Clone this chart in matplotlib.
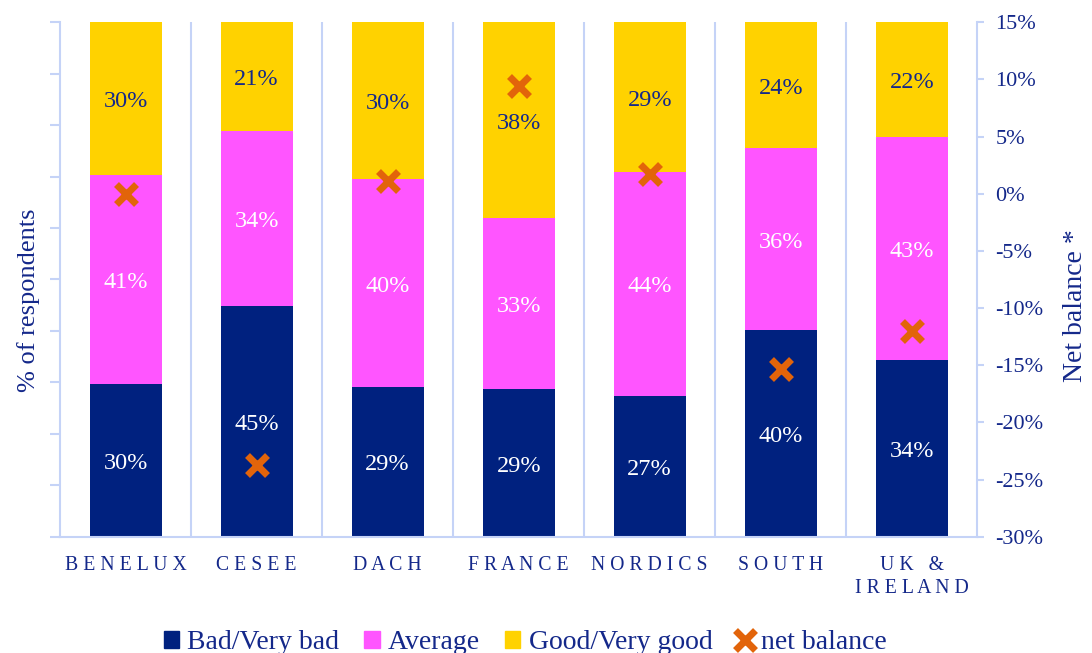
#!/usr/bin/env python

"""
stacked bar of survey answers by region, net balance on a second axis
"""

import numpy as np
import matplotlib
matplotlib.use("Agg")
import matplotlib.pyplot as plt
from matplotlib.patches import Patch
from matplotlib.lines import Line2D

regions = ["BENELUX", "CESEE", "DACH", "FRANCE", "NORDICS", "SOUTH", "UK &\nIRELAND"]
bad = [29.6, 44.9, 29.1, 28.7, 27.4, 40.1, 34.4]
average = [40.8, 33.9, 40.4, 33.2, 43.5, 35.5, 43.3]
good = [29.6, 21.2, 30.5, 38.1, 29.1, 24.4, 22.3]
net_balance = [0.0, -23.7, 1.1, 9.4, 1.7, -15.3, -12.0]

C_BAD = "#00217f"
C_AVG = "#ff55ff"
C_GOOD = "#ffd200"
C_NET = "#e2640a"
C_TXT = "#14288a"
C_AX = "#c5d3f7"

plt.rcParams["font.family"] = ["Liberation Serif", "DejaVu Serif"]

fig = plt.figure(figsize=(10.92, 6.53), dpi=100)
ax = fig.add_axes([0.055, 0.178, 0.84, 0.788])
x = np.arange(len(regions))
w = 0.55

b0 = ax.bar(x, bad, w, color=C_BAD)
b1 = ax.bar(x, average, w, bottom=bad, color=C_AVG)
bottom2 = np.array(bad) + np.array(average)
b2 = ax.bar(x, good, w, bottom=bottom2, color=C_GOOD)

for bars, vals, col in [(b0, bad, "white"), (b1, average, "white"), (b2, good, C_TXT)]:
    for r, v in zip(bars, vals):
        ax.text(r.get_x() + r.get_width() / 2, r.get_y() + r.get_height() / 2 - 0.6,
                "{:.0f}%".format(v), ha="center", va="center", color=col, fontsize=17.5)

ax.set_xlim(-0.5, len(regions) - 0.5)
ax.set_ylim(0, 100)
ax.set_yticks(np.arange(0, 101, 10))
ax.set_yticklabels([])
ax.tick_params(axis="y", colors=C_AX, length=7, width=1.5)
ax.set_xticks(x)
ax.set_xticklabels([" ".join(list(r)).replace(" \n ", "\n") for r in regions],
                   color=C_TXT, fontsize=14.2, linespacing=1.3)
ax.tick_params(axis="x", length=0, pad=14)
for xb in np.arange(0.5, len(regions) - 0.5, 1):
    ax.axvline(xb, color=C_AX, lw=1.5, zorder=0)
for s in ["top", "right"]:
    ax.spines[s].set_visible(False)
ax.spines["left"].set_color(C_AX)
ax.spines["left"].set_linewidth(1.5)
ax.spines["bottom"].set_color(C_AX)
ax.spines["bottom"].set_linewidth(1.5)
ax.set_ylabel("% of respondents", color=C_TXT, fontsize=19, va="center")
ax.yaxis.set_label_coords(-0.034, 0.46)

ax2 = ax.twinx()
ax2.plot(x, net_balance, linestyle="none", marker="x", ms=14, mew=5, color=C_NET)
ax2.set_ylim(-30, 15)
ax2.set_yticks(np.arange(-30, 16, 5))
ax2.set_yticklabels(["{}%".format(v) for v in range(-30, 16, 5)])
ax2.tick_params(axis="y", colors=C_AX, labelcolor=C_TXT, labelsize=16, length=5, width=1.5, pad=8)
for s in ["top", "left", "bottom"]:
    ax2.spines[s].set_visible(False)
ax2.spines["right"].set_color(C_AX)
ax2.spines["right"].set_linewidth(1.5)
ax2.set_ylabel("Net balance *", color=C_TXT, fontsize=20, va="center")
ax2.yaxis.set_label_coords(1.107, 0.45)

handles = [Patch(color=C_BAD), Patch(color=C_AVG), Patch(color=C_GOOD),
           Line2D([], [], linestyle="none", marker="x", ms=14, mew=5, color=C_NET)]
labels = ["Bad/Very bad", "Average", "Good/Very good", "net balance"]
leg = fig.legend(handles, labels, loc="center", bbox_to_anchor=(0.481, 0.016), ncol=4,
                 frameon=False, fontsize=20, handlelength=0.55, handleheight=0.55,
                 handletextpad=0.3, columnspacing=0.9)
for t in leg.get_texts():
    t.set_color(C_TXT)

fig.savefig("out.png", dpi=100)
